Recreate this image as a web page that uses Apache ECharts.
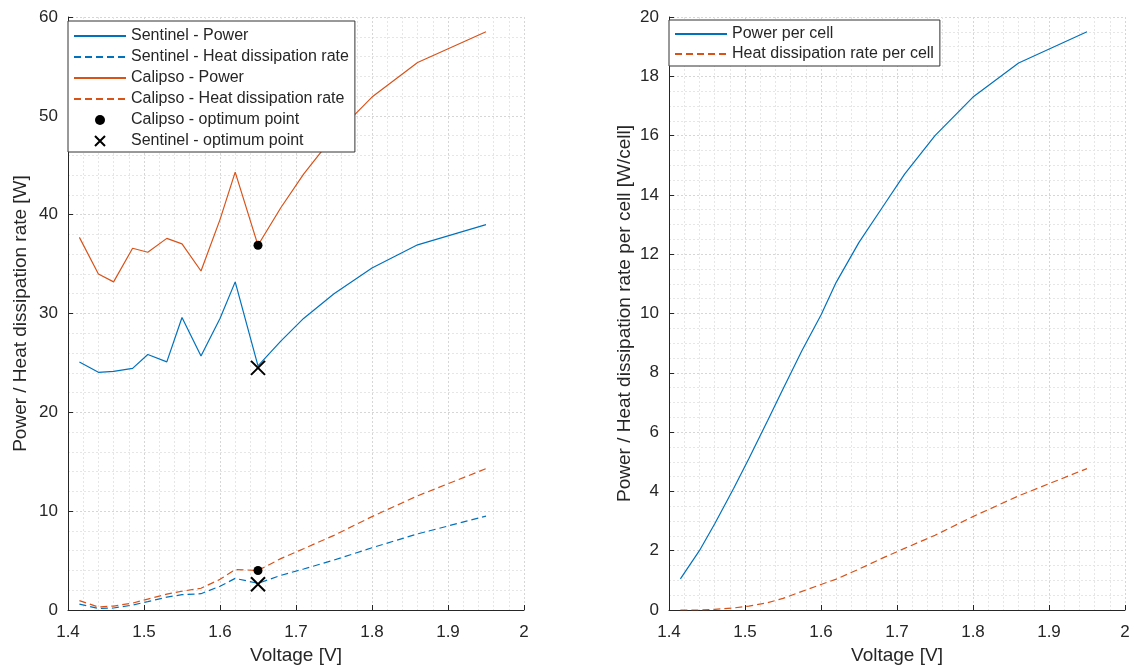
<!DOCTYPE html>
<html>
<head>
<meta charset="utf-8">
<script src="https://cdn.jsdelivr.net/npm/echarts@6/dist/echarts.min.js"></script>
<style>
  html, body { margin: 0; padding: 0; background: #fff; }
  #chart { width: 1135px; height: 670px; }
</style>
</head>
<body>
<div id="chart"></div>
<script>
// voltage points (x axis)
const voltage = [1.415, 1.44, 1.46, 1.485, 1.505, 1.53, 1.55, 1.575, 1.6, 1.62, 1.65, 1.68, 1.71, 1.75, 1.8, 1.86, 1.95];

// left plot
const sentinelPower = [25.1, 24.05, 24.15, 24.45, 25.85, 25.1, 29.6, 25.7, 29.5, 33.2, 24.7, 27.2, 29.5, 32.0, 34.6, 36.95, 39.0];
const sentinelHeat = [0.6, 0.15, 0.2, 0.5, 0.85, 1.3, 1.55, 1.65, 2.4, 3.2, 2.7, 3.5, 4.15, 5.05, 6.3, 7.7, 9.5];
const calipsoPower = [37.7, 34.0, 33.2, 36.6, 36.2, 37.6, 37.05, 34.3, 39.5, 44.3, 36.9, 40.7, 44.1, 48.0, 51.9, 55.4, 58.5];
const calipsoHeat = [0.95, 0.3, 0.4, 0.7, 1.1, 1.6, 1.9, 2.2, 3.1, 4.1, 4.0, 5.2, 6.2, 7.55, 9.45, 11.55, 14.3];
const calipsoOpt = [[1.65, 36.9], [1.65, 4.0]];
const sentinelOpt = [[1.65, 24.5], [1.65, 2.6]];

// right plot
const cellPower = [1.05, 2.0, 2.9, 4.1, 5.1, 6.4, 7.45, 8.75, 9.95, 11.05, 12.4, 13.55, 14.7, 16.0, 17.3, 18.45, 19.5];
const cellHeat = [0.0, 0.0, 0.02, 0.07, 0.13, 0.25, 0.39, 0.63, 0.86, 1.04, 1.38, 1.74, 2.08, 2.52, 3.15, 3.85, 4.77];

// ticks
const xTicks = [1.4, 1.5, 1.6, 1.7, 1.8, 1.9, 2];
const yTicksLeft = [0, 10, 20, 30, 40, 50, 60];
const yTicksRight = [0, 2, 4, 6, 8, 10, 12, 14, 16, 18, 20];

const BLUE = "#0072BD";
const ORANGE = "#D95319";
const FONT = "Liberation Sans";
const TXT = "#262626";

function pairs(arr) {
  return voltage.map((v, i) => [v, arr[i]]);
}

function xAxisCfg(idx) {
  return {
    type: "value",
    gridIndex: idx,
    min: xTicks[0],
    max: xTicks[xTicks.length - 1],
    interval: 0.1,
    name: "Voltage [V]",
    nameLocation: "middle",
    nameGap: 36,
    nameTextStyle: { fontFamily: FONT, fontSize: 19, color: TXT },
    axisLine: { lineStyle: { color: TXT, width: 1 } },
    axisTick: { inside: true, length: 5, lineStyle: { color: TXT } },
    axisLabel: {
      fontFamily: FONT, fontSize: 17, color: TXT, margin: 14,
      formatter: (v) => String(Math.round(v * 10) / 10),
    },
    splitLine: { show: true, lineStyle: { color: "#d6d6d6", type: [2, 2] } },
    minorTick: { show: false, splitNumber: 5 },
    minorSplitLine: { show: true, lineStyle: { color: "#e6e6e6", type: [2, 2] } },
  };
}

function yAxisCfg(idx, ticks, name, minorSplit, gap) {
  return {
    type: "value",
    gridIndex: idx,
    min: ticks[0],
    max: ticks[ticks.length - 1],
    interval: ticks[1] - ticks[0],
    name: name,
    nameLocation: "middle",
    nameGap: gap,
    nameTextStyle: { fontFamily: FONT, fontSize: 19, color: TXT },
    axisLine: { show: true, lineStyle: { color: TXT, width: 1 } },
    axisTick: { show: true, inside: true, length: 5, lineStyle: { color: TXT } },
    axisLabel: { fontFamily: FONT, fontSize: 17, color: TXT, margin: 10 },
    splitLine: { show: true, lineStyle: { color: "#d6d6d6", type: [2, 2] } },
    minorTick: { show: false, splitNumber: minorSplit },
    minorSplitLine: { show: true, lineStyle: { color: "#e6e6e6", type: [2, 2] } },
  };
}

function lineSeries(name, data, color, dashed, idx) {
  return {
    name: name,
    type: "line",
    xAxisIndex: idx,
    yAxisIndex: idx,
    data: data,
    symbol: "none",
    lineStyle: { color: color, width: 1.2, type: dashed ? [7, 4] : "solid" },
    itemStyle: { color: color },
  };
}

// legend entry for a line: hide the symbol drawn in the middle of the icon
function lineEntry(name) {
  return { name: name, itemStyle: { opacity: 0 } };
}

const crossPath = "path://M0,0L10,10M10,0L0,10";

const chart = echarts.init(document.getElementById("chart"));

const option = {
  animation: false,
  backgroundColor: "#fff",
  grid: [
    { left: 68, top: 17, width: 456, height: 594 },
    { left: 669, top: 17, width: 456, height: 594 },
  ],
  xAxis: [xAxisCfg(0), xAxisCfg(1)],
  yAxis: [
    yAxisCfg(0, yTicksLeft, "Power / Heat dissipation rate [W]", 5, 38),
    yAxisCfg(1, yTicksRight, "Power / Heat dissipation rate per cell [W/cell]", 4, 35),
  ],
  legend: [
    {
      orient: "vertical",
      left: 68,
      top: 21,
      itemWidth: 52,
      itemHeight: 10,
      itemGap: 5,
      padding: [7, 6, 3, 5],
      backgroundColor: "#fff",
      borderColor: "#333",
      borderWidth: 1,
      textStyle: { fontFamily: FONT, fontSize: 16, color: TXT },
      data: [
        lineEntry("Sentinel - Power"),
        lineEntry("Sentinel - Heat dissipation rate"),
        lineEntry("Calipso - Power"),
        lineEntry("Calipso - Heat dissipation rate"),
        "Calipso - optimum point",
        "Sentinel - optimum point",
      ],
    },
    {
      orient: "vertical",
      left: 669,
      top: 20,
      itemWidth: 52,
      itemHeight: 10,
      itemGap: 4,
      padding: [6, 6, 4, 5],
      backgroundColor: "#fff",
      borderColor: "#333",
      borderWidth: 1,
      textStyle: { fontFamily: FONT, fontSize: 16, color: TXT },
      data: [lineEntry("Power per cell"), lineEntry("Heat dissipation rate per cell")],
    },
  ],
  series: [
    lineSeries("Sentinel - Power", pairs(sentinelPower), BLUE, false, 0),
    lineSeries("Sentinel - Heat dissipation rate", pairs(sentinelHeat), BLUE, true, 0),
    lineSeries("Calipso - Power", pairs(calipsoPower), ORANGE, false, 0),
    lineSeries("Calipso - Heat dissipation rate", pairs(calipsoHeat), ORANGE, true, 0),
    {
      name: "Calipso - optimum point",
      type: "scatter",
      xAxisIndex: 0,
      yAxisIndex: 0,
      data: calipsoOpt,
      symbol: "circle",
      symbolSize: 9,
      itemStyle: { color: "#000", opacity: 1 },
      z: 5,
    },
    {
      name: "Sentinel - optimum point",
      type: "scatter",
      xAxisIndex: 0,
      yAxisIndex: 0,
      data: sentinelOpt,
      symbol: crossPath,
      symbolSize: 14,
      itemStyle: { color: "none", borderColor: "#000", borderWidth: 2, opacity: 1 },
      z: 5,
    },
    lineSeries("Power per cell", pairs(cellPower), BLUE, false, 1),
    lineSeries("Heat dissipation rate per cell", pairs(cellHeat), ORANGE, true, 1),
  ],
};

chart.setOption(option);
</script>
</body>
</html>
